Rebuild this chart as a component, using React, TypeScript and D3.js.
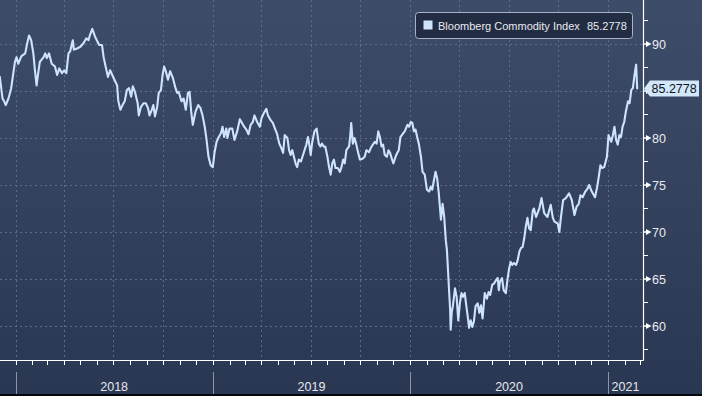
import React from "react";
import * as d3 from "d3";

// ---- Data ----
const startDate = "2017-12-01";
const dayOffsets = [
  2,7,10,13,18,23,27,30,33,36,42,49,52,56,60,64,67,70,73,76,83,86,89,93,98,104,108,112,117,121,125,129,132,137,139,144,151,157,162,166,169,173,178,183,186,191,194,
  197,202,206,210,214,219,221,225,229,233,237,241,245,248,252,257,259,263,268,272,276,279,283,286,289,293,296,300,303,306,309,313,317,322,327,330,333,338,342,346,350,353,356,359,364,369,373,377,381,384,388,392,
  396,399,403,407,411,414,417,421,423,427,432,436,441,446,450,454,458,462,466,470,473,478,483,486,490,495,498,503,507,511,515,519,523,526,529,534,537,540,543,546,549,552,555,559,564,569,572,575,577,580,584,588,592,595,
  598,601,604,608,611,614,617,620,623,627,631,634,637,640,643,648,650,652,655,658,661,665,668,673,677,680,685,688,692,696,699,702,705,708,711,714,718,721,724,727,730,734,737,740,743,748,751,756,759,762,765,768,771,774,777,
  781,784,788,792,796,799,802,805,808,811,814,818,821,824,827,829,831,833,835,836,838,840,844,847,850,853,856,859,862,865,868,870,873,876,879,882,886,889,892,895,899,903,906,909,913,916,920,923,925,927,931,934,938,941,944,947,950,953,957,960,963,966,969,972,975,978,981,984,
  988,990,994,1000,1004,1009,1015,1021,1025,1028,1034,1037,1040,1044,1049,1055,1060,1065,1069,1073,1076,1080,1085,1089,1092,1097,1103,1107,1110,1113,1116,1120,1125,1128,1133,1136,1139,1142,1145,1148,1151,1154,1157,1160,1164,1167,1170,1173,1176,1179,1181
];
const indexValues = [
  86.5,84.2,83.9,83.5,84.2,85.3,86.9,88.1,88.6,87.9,88.7,89.0,89.9,90.9,90.4,89.0,87.2,85.6,86.9,88.1,88.6,89.0,88.5,89.0,87.9,87.6,86.7,87.4,86.9,87.2,86.9,89.0,89.2,90.4,89.4,89.5,89.7,90.1,90.6,90.4,91.0,91.6,90.8,90.2,89.9,89.9,88.6,
  87.8,86.5,87.2,86.7,86.2,85.6,84.0,83.0,83.5,83.9,85.1,85.3,84.4,85.5,84.9,83.7,82.4,83.3,83.7,83.7,83.2,82.4,83.0,83.5,82.3,83.3,84.8,85.1,86.7,87.6,87.1,86.2,87.1,86.4,85.3,84.8,84.9,83.9,84.2,83.0,84.8,84.9,82.8,81.4,82.8,83.5,83.2,82.4,81.2,80.0,78.0,77.1,
  76.9,78.4,79.6,80.1,80.5,81.2,80.1,81.0,80.0,81.0,81.0,79.8,80.7,82.0,81.6,81.2,80.9,80.4,81.4,81.7,82.4,81.7,81.2,82.1,82.6,83.1,82.4,81.9,81.6,81.0,80.4,79.4,78.9,78.4,80.3,80.0,78.7,78.2,78.7,78.0,77.3,76.9,77.7,77.5,78.4,79.3,80.1,79.1,78.2,79.6,80.7,81.0,79.4,79.1,
  79.4,79.1,79.1,78.0,76.9,76.1,77.3,77.7,76.8,76.8,76.4,76.9,77.7,77.3,78.7,79.1,80.1,81.6,79.4,80.0,79.4,78.4,77.7,77.8,78.0,78.7,78.5,78.9,79.3,79.6,79.4,80.7,80.1,79.1,79.3,78.2,78.0,78.7,78.4,77.8,77.3,78.0,78.4,78.7,80.1,80.5,80.7,81.4,81.2,81.7,81.6,80.7,80.9,80.1,79.4,
  78.0,76.4,76.1,74.5,74.3,74.8,74.5,75.5,76.4,75.7,74.1,71.3,73.0,71.6,69.1,68.1,66.0,63.8,61.7,59.6,61.5,62.1,64.0,63.1,60.6,62.4,63.5,63.1,63.5,62.1,60.8,59.8,60.6,59.9,60.5,62.1,62.4,61.4,62.2,60.8,63.5,62.9,63.6,63.3,64.4,64.5,64.9,65.1,63.8,64.7,65.1,63.8,63.5,64.9,66.1,66.8,66.5,66.7,66.5,67.0,67.9,68.3,68.4,69.3,70.6,71.5,70.4,70.2,
  72.3,72.5,71.6,72.5,73.6,72.0,71.6,72.9,71.5,71.1,70.9,70.0,71.6,73.4,73.6,74.1,73.4,71.8,72.7,73.0,73.9,73.7,74.3,74.6,75.0,74.3,73.7,74.8,75.9,77.1,76.8,76.9,78.0,80.3,79.6,80.3,81.2,79.8,79.3,80.3,80.1,81.2,81.7,82.8,83.9,83.7,85.1,85.3,86.7,87.8,85.2778
];
const seriesName = "Bloomberg Commodity Index";
const lastValueLabel = "85.2778";
const yTickValues = [60, 65, 70, 75, 80, 85, 90];
const yMinorTickValues = [57.5, 62.5, 67.5, 72.5, 77.5, 82.5, 87.5, 92.5];
const yearLabels = [2018, 2019, 2020, 2021];

const W = 702;
const H = 396;
const PLOT_R = 643;
const PLOT_B = 360;
const FONT = "'Liberation Sans', Arial, sans-serif";

export default function App() {
  const start = d3.timeParse("%Y-%m-%d")(startDate) as Date;
  const data = dayOffsets.map((d, i) => ({ date: d3.timeDay.offset(start, d), value: indexValues[i] }));

  const x = d3
    .scaleTime()
    .domain([new Date(2018, 0, 1), new Date(2021, 0, 1)])
    .range([15.5, 608]);
  const y = d3.scaleLinear().domain([56.38, 94.68]).range([PLOT_B, 0]);

  const line = d3
    .line<{ date: Date; value: number }>()
    .x((d) => x(d.date))
    .y((d) => y(d.value));

  const quarterTicks = d3.timeMonth
    .every(3)!
    .range(new Date(2018, 0, 1), new Date(2021, 1, 1));
  const monthTicks = d3.timeMonth
    .range(new Date(2017, 11, 1), new Date(2021, 3, 1))
    .filter((d) => x(d) >= 0 && x(d) <= PLOT_R);

  const last = data[data.length - 1];
  const ly = y(last.value);
  // axis labels hidden behind the last-value marker are not drawn (as in the reference)
  const visibleLabels = yTickValues.filter((v) => Math.abs(y(v) - ly) > 12);

  return (
    <svg
      width={W}
      height={H}
      style={{ position: "absolute", left: 0, top: 0, display: "block" }}
      fontFamily={FONT}
    >
      <defs>
        <linearGradient id="bg" x1="0" y1="0" x2="0" y2="1">
          <stop offset="0%" stopColor="#3d4c68" />
          <stop offset="100%" stopColor="#2a3753" />
        </linearGradient>
        <clipPath id="plotClip">
          <rect x={0} y={0} width={PLOT_R} height={PLOT_B} />
        </clipPath>
      </defs>
      <rect x={0} y={0} width={W} height={H} fill="url(#bg)" />

      {/* grid */}
      <g stroke="#5c6d86" strokeWidth={1} strokeDasharray="2,3">
        {yTickValues.map((v) => (
          <line key={"gy" + v} x1={0} x2={PLOT_R} y1={Math.round(y(v)) + 0.5} y2={Math.round(y(v)) + 0.5} />
        ))}
        {quarterTicks.map((d) => (
          <line key={"gx" + d.getTime()} x1={Math.round(x(d)) + 0.5} x2={Math.round(x(d)) + 0.5} y1={0} y2={PLOT_B} />
        ))}
      </g>

      {/* series */}
      <g clipPath="url(#plotClip)">
        <path
          d={line(data) || ""}
          fill="none"
          stroke="#cde4fc"
          strokeWidth={2.1}
          strokeLinejoin="round"
          strokeLinecap="round"
        />
      </g>

      {/* axes */}
      <line x1={PLOT_R + 0.5} x2={PLOT_R + 0.5} y1={0} y2={PLOT_B + 0.5} stroke="#ffffff" strokeWidth={1.2} />
      <line x1={0} x2={PLOT_R + 0.5} y1={PLOT_B + 0.5} y2={PLOT_B + 0.5} stroke="#ffffff" strokeWidth={1.2} />

      {/* bottom month ticks */}
      <g stroke="#ffffff" strokeWidth={1}>
        {monthTicks.map((d) => (
          <line key={"mt" + d.getTime()} x1={Math.round(x(d)) + 0.5} x2={Math.round(x(d)) + 0.5} y1={PLOT_B} y2={PLOT_B + 5} />
        ))}
      </g>

      {/* year separators and labels */}
      {yearLabels.map((yr) => {
        const x0 = x(new Date(yr, 0, 1));
        const x1 = Math.min(x(new Date(yr + 1, 0, 1)), PLOT_R);
        return (
          <g key={"yr" + yr}>
            <line x1={Math.round(x0) + 0.5} x2={Math.round(x0) + 0.5} y1={372} y2={394} stroke="#8a95a8" strokeWidth={1} />
            <text x={(x0 + x1) / 2} y={391} fill="#e6e8ec" fontSize={12.5} textAnchor="middle">
              {yr}
            </text>
          </g>
        );
      })}

      {/* right axis ticks */}
      <g fill="#ffffff" stroke="none">
        {yTickValues.map((v) => {
          const yy = y(v);
          return (
            <path
              key={"yt" + v}
              d={`M${PLOT_R},${yy - 0.8}L${PLOT_R + 3},${yy - 0.8}L${PLOT_R + 3},${yy - 3}L${PLOT_R + 8.5},${yy}L${PLOT_R + 3},${yy + 3}L${PLOT_R + 3},${yy + 0.8}L${PLOT_R},${yy + 0.8}Z`}
            />
          );
        })}
      </g>
      <g stroke="#ffffff" strokeWidth={1}>
        {yMinorTickValues.map((v) => (
          <line key={"ym" + v} x1={PLOT_R} x2={PLOT_R + 5} y1={Math.round(y(v)) + 0.5} y2={Math.round(y(v)) + 0.5} />
        ))}
      </g>
      {visibleLabels.map((v) => (
        <text key={"yl" + v} x={652} y={y(v) + 4.6} fill="#e8eaee" fontSize={12.5}>
          {v}
        </text>
      ))}

      {/* last value label */}
      <path
        d={`M${PLOT_R + 1},${ly}L${PLOT_R + 7},${ly - 8}L699,${ly - 8}L699,${ly + 8}L${PLOT_R + 7},${ly + 8}Z`}
        fill="#d3e7fb"
      />
      <text x={651.5} y={ly + 4.6} fill="#0d1220" fontSize={12.5}>
        {lastValueLabel}
      </text>

      {/* legend */}
      <rect x={415.5} y={12.5} width={217} height={26} rx={3} fill="#222d44" stroke="#a9b3c3" strokeWidth={1} />
      <rect x={423.5} y={20.5} width={9} height={9} fill="#cfe4fb" />
      <text x={438} y={29.5} fill="#e8eaee" fontSize={11}>
        {seriesName}
      </text>
      <text x={587} y={29.5} fill="#e8eaee" fontSize={11}>
        {lastValueLabel}
      </text>

      {/* bottom border */}
      <rect x={0} y={394} width={W} height={2} fill="#05070c" />
    </svg>
  );
}
